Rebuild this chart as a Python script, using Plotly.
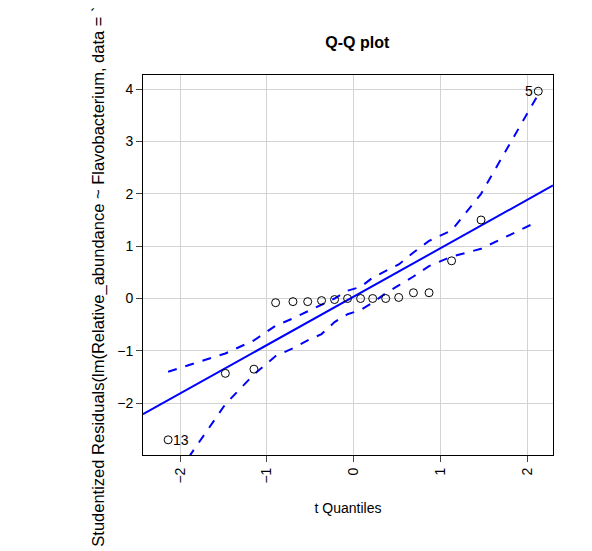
import plotly.graph_objects as go

# t quantiles and studentized residuals
tq = [-2.14, -1.48, -1.15, -0.90, -0.70, -0.53, -0.37, -0.22, -0.07, 0.08, 0.22, 0.37, 0.52, 0.69, 0.87, 1.13, 1.47, 2.13]
resid = [-2.70, -1.43, -1.35, -0.08, -0.06, -0.06, -0.04, -0.02, 0.0, 0.0, 0.0, 0.0, 0.02, 0.11, 0.11, 0.72, 1.50, 3.96]
upper = [-1.40, -1.05, -0.80, -0.52, -0.38, -0.25, -0.13, 0.0, 0.15, 0.22, 0.40, 0.52, 0.65, 0.88, 1.10, 1.30, 2.00, 3.90]
lower_x = [-2.14, -1.48, -1.15, -0.90, -0.70, -0.53, -0.37, -0.22, -0.07, 0.08, 0.22, 0.37, 0.52, 0.69, 0.87, 1.13, 1.47, 2.06]
lower = [-3.60, -2.02, -1.45, -1.10, -0.95, -0.80, -0.68, -0.45, -0.30, -0.22, -0.08, 0.10, 0.25, 0.42, 0.62, 0.80, 0.95, 1.42]
line_x = [-2.43, 2.30]
line_y = [-2.21, 2.16]
labels = {0: "13", 17: "5"}

fig = go.Figure()
fig.add_trace(go.Scatter(x=line_x, y=line_y, mode="lines", line=dict(color="#0000ff", width=2)))
fig.add_trace(go.Scatter(x=tq, y=upper, mode="lines", line=dict(color="#0000ff", width=2, dash="dash")))
fig.add_trace(go.Scatter(x=lower_x, y=lower, mode="lines", line=dict(color="#0000ff", width=2, dash="dash")))
fig.add_trace(go.Scatter(x=tq, y=resid, mode="markers",
                         marker=dict(symbol="circle-open", color="black", size=8, line=dict(width=1))))
for i, t in labels.items():
    fig.add_annotation(x=tq[i], y=resid[i], text=t, showarrow=False,
                       xanchor="left" if i == 0 else "right", xshift=3 if i == 0 else -3,
                       font=dict(size=14, color="black"))

fig.add_annotation(xref="paper", yref="paper", x=-0.137, y=-0.247, yanchor="bottom", textangle=-90,
                   showarrow=False,
                   text="Studentized Residuals(lm(Relative_abundance ~ Flavobacterium, data = `theData`))",
                   font=dict(size=16.5, color="black"))

ax = dict(showline=True, linecolor="black", linewidth=1, mirror=True, ticks="outside", ticklen=6,
          gridcolor="#d3d3d3", zeroline=False, tickfont=dict(size=14, color="black"))
fig.update_layout(
    width=592, height=551, showlegend=False, plot_bgcolor="white", paper_bgcolor="white",
    font=dict(family="Liberation Sans, Arial", color="black"),
    margin=dict(l=135, r=47, t=67, b=104),
    title=dict(text="<b>Q-Q plot</b>", x=0.59, xanchor="center", y=0.938, yanchor="middle",
               font=dict(size=16)),
    xaxis=dict(ax, range=[-2.43, 2.30], tickvals=[-2, -1, 0, 1, 2], tickangle=-90,
               title=dict(text="t Quantiles", font=dict(size=14), standoff=20)),
    yaxis=dict(ax, range=[-2.99, 4.27], tickvals=[-2, -1, 0, 1, 2, 3, 4]),
)
fig.write_html("out.html")
